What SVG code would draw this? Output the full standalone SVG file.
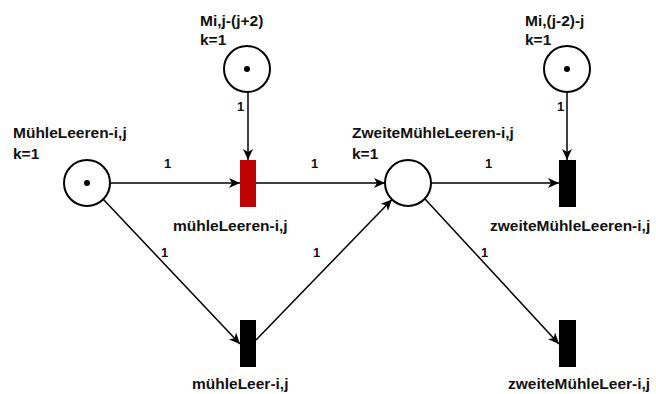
<svg xmlns="http://www.w3.org/2000/svg" width="656" height="394" viewBox="0 0 656 394">
  <style>
    .place { fill: #ffffff; stroke: #000000; stroke-width: 2; }
    .token { fill: #000000; }
    .trans { fill: #000000; }
    .trans-red { fill: #c00000; }
    .arc { fill: none; stroke: #000000; stroke-width: 1.5; marker-end: url(#arrow); }
    .name { font-family: "Liberation Sans", Arial, sans-serif; font-weight: bold; font-size: 15.5px; fill: #111111; }
    .weight { font-family: "Liberation Sans", Arial, sans-serif; font-weight: bold; font-size: 13px; fill: #111111; }
  </style>
  <defs>
    <marker id="arrow" markerUnits="userSpaceOnUse" markerWidth="12" markerHeight="11" refX="11" refY="5" orient="auto">
      <path d="M0,0 L11,5 L0,10 L3,5 Z" fill="#000000"/>
    </marker>
  </defs>

  <rect width="656" height="394" fill="#ffffff"/>

  <!-- arcs with their weights -->
  <g id="arcs">
    <path class="arc" d="M110,183 L240,183"/>
    <path class="arc" d="M256,183 L385,183"/>
    <path class="arc" d="M248,92 L248,160"/>
    <path class="arc" d="M431,183 L559,183"/>
    <path class="arc" d="M567,92 L567,160"/>
    <path class="arc" d="M103,199 L240,344"/>
    <path class="arc" d="M256,340 L392,199.5"/>
    <path class="arc" d="M425,199 L559,344"/>
    <text class="weight" x="164" y="168">1</text>
    <text class="weight" x="311" y="168">1</text>
    <text class="weight" x="237" y="111">1</text>
    <text class="weight" x="485" y="168">1</text>
    <text class="weight" x="557" y="111">1</text>
    <text class="weight" x="161" y="257">1</text>
    <text class="weight" x="313" y="257">1</text>
    <text class="weight" x="481" y="257">1</text>
  </g>

  <!-- places -->
  <g id="place-muehleLeeren">
    <circle class="place" cx="87" cy="183" r="23"/>
    <circle class="token" cx="87" cy="183" r="3"/>
    <text class="name" x="13" y="138">MühleLeeren-i,j</text>
    <text class="name" x="13" y="159">k=1</text>
  </g>
  <g id="place-mij">
    <circle class="place" cx="247" cy="69" r="23"/>
    <circle class="token" cx="247" cy="69" r="3"/>
    <text class="name" x="200" y="26">Mi,j-(j+2)</text>
    <text class="name" x="200" y="45">k=1</text>
  </g>
  <g id="place-zweiteMuehleLeeren">
    <circle class="place" cx="408" cy="183" r="23"/>
    <text class="name" x="352" y="138">ZweiteMühleLeeren-i,j</text>
    <text class="name" x="352" y="159">k=1</text>
  </g>
  <g id="place-mij2">
    <circle class="place" cx="567" cy="69" r="23"/>
    <circle class="token" cx="567" cy="69" r="3"/>
    <text class="name" x="525" y="26">Mi,(j-2)-j</text>
    <text class="name" x="525" y="45">k=1</text>
  </g>

  <!-- transitions -->
  <g id="trans-muehleLeeren">
    <rect class="trans-red" x="240" y="160" width="16" height="47"/>
    <text class="name" x="173" y="231">mühleLeeren-i,j</text>
  </g>
  <g id="trans-zweiteMuehleLeeren">
    <rect class="trans" x="559" y="160" width="17" height="47"/>
    <text class="name" x="490" y="231">zweiteMühleLeeren-i,j</text>
  </g>
  <g id="trans-muehleLeer">
    <rect class="trans" x="240" y="320" width="16" height="47"/>
    <text class="name" x="192" y="389">mühleLeer-i,j</text>
  </g>
  <g id="trans-zweiteMuehleLeer">
    <rect class="trans" x="559" y="320" width="17" height="47"/>
    <text class="name" x="508" y="389">zweiteMühleLeer-i,j</text>
  </g>
</svg>
